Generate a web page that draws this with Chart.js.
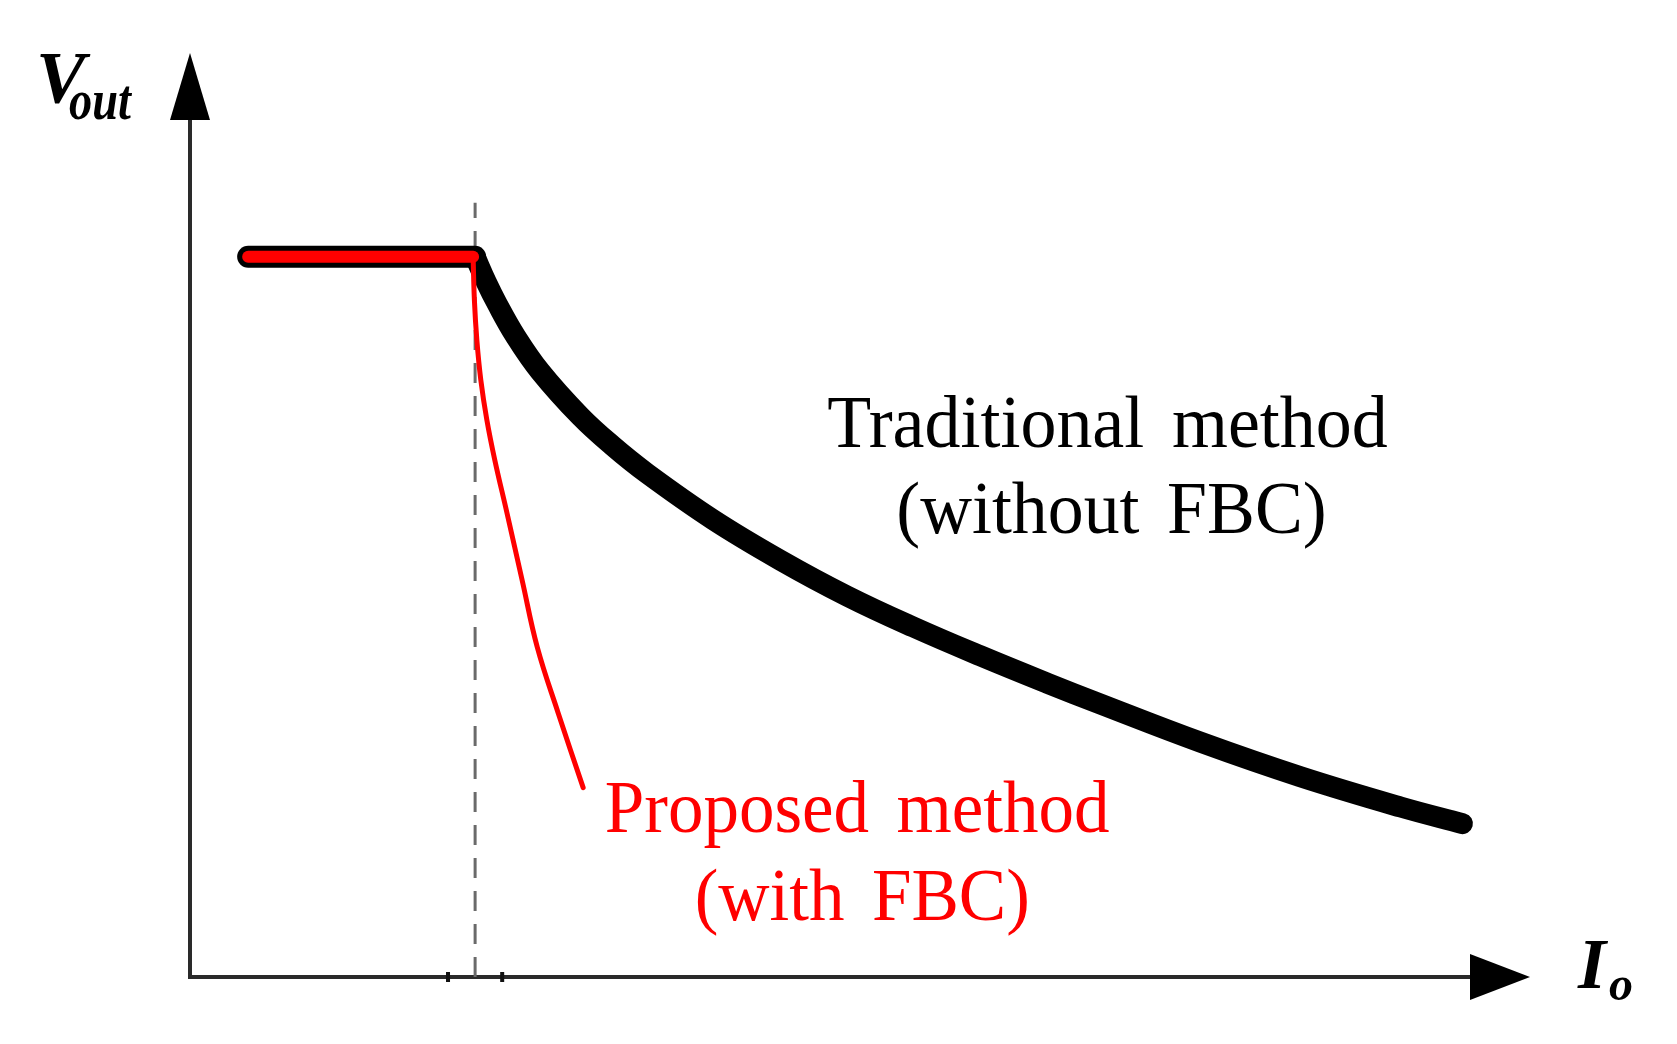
<!DOCTYPE html>
<html>
<head>
<meta charset="utf-8">
<script src="https://cdn.jsdelivr.net/npm/chart.js@4.4.1/dist/chart.umd.min.js"></script>
<style>
  html, body { margin: 0; padding: 0; background: #fff; }
  #wrap { position: relative; width: 1677px; height: 1044px; }
</style>
</head>
<body>
<div id="wrap"><canvas id="vChart"></canvas></div>
<script>
// Vout vs Io, arbitrary units (knee at Io = 10, Vout = 10)
const flatI = [2.04, 10.0];
const flatV = [10.0, 10.0];
const redFlatI = [2.04, 9.93];

// traditional method (without FBC)
const tradI = [10.0, 10.39, 10.77, 11.40, 12.28, 13.68, 14.81, 16.04, 18.35, 20.70, 23.05, 25.37, 27.72, 30.07, 31.93, 35.44, 38.95, 42.46, 44.63];
const tradV = [10.0, 9.65, 9.35, 8.91, 8.41, 7.79, 7.38, 6.99, 6.35, 5.79, 5.29, 4.86, 4.46, 4.08, 3.79, 3.26, 2.78, 2.36, 2.13];

// proposed method (with FBC)
const fbcI = [9.93, 9.975, 10.06, 10.20, 10.41, 10.69, 11.12, 11.65, 12.18, 12.91, 13.79];
const fbcV = [10.0, 9.40, 8.85, 8.29, 7.74, 7.18, 6.44, 5.51, 4.58, 3.67, 2.63];

// dashed marker at the knee current
const dashI = [10.0, 10.0];
const dashV = [0, 10.75];

const axisMaxI = 47.0;
const axisMaxV = 12.83;

const toPts = (xs, ys) => xs.map((x, i) => ({ x, y: ys[i] }));

function drawText(ctx, text, x, y, font, color, sx, align) {
    ctx.save();
    ctx.font = font;
    ctx.fillStyle = color;
    ctx.textAlign = align || 'center';
    ctx.textBaseline = 'alphabetic';
    if ('wordSpacing' in ctx) ctx.wordSpacing = '10px';
    ctx.translate(x, y);
    ctx.scale(sx, 1);
    ctx.fillText(text, 0, 0);
    ctx.restore();
}

const axesPlugin = {
    id: 'axes',
    beforeDatasetsDraw(chart) {
        const { ctx, scales: { x, y } } = chart;
        const x0 = x.getPixelForValue(0), y0 = y.getPixelForValue(0);
        const xEnd = x.getPixelForValue(axisMaxI), yEnd = y.getPixelForValue(axisMaxV);
        ctx.save();
        ctx.strokeStyle = '#2a2a2a';
        ctx.lineWidth = 4;
        ctx.beginPath();
        ctx.moveTo(x0, y0 + 2); ctx.lineTo(x0, yEnd + 60);
        ctx.moveTo(x0 - 2, y0); ctx.lineTo(xEnd - 55, y0);
        ctx.stroke();

        // small ticks around the knee current
        ctx.fillStyle = '#111';
        [9.05, 10.95].forEach(v => {
            const px = x.getPixelForValue(v);
            ctx.fillRect(px - 2, y0 - 5, 4, 10);
        });

        ctx.fillStyle = '#000';
        ctx.beginPath();
        ctx.moveTo(x0, yEnd);
        ctx.lineTo(x0 - 20, yEnd + 67);
        ctx.lineTo(x0 + 20, yEnd + 67);
        ctx.closePath();
        ctx.fill();

        ctx.beginPath();
        ctx.moveTo(xEnd, y0);
        ctx.lineTo(xEnd - 60, y0 - 23);
        ctx.lineTo(xEnd - 60, y0 + 23);
        ctx.closePath();
        ctx.fill();
        ctx.restore();
    },
    afterDatasetsDraw(chart) {
        const { ctx, scales: { x, y } } = chart;
        const x0 = x.getPixelForValue(0), y0 = y.getPixelForValue(0);
        const xEnd = x.getPixelForValue(axisMaxI), yEnd = y.getPixelForValue(axisMaxV);
        const serif = '"Liberation Serif", "Times New Roman", serif';

        // axis titles
        drawText(ctx, 'V', x0 - 154, yEnd + 50, 'italic bold 74px ' + serif, '#000', 1, 'left');
        drawText(ctx, 'out', x0 - 121, yEnd + 66, 'italic bold 58px ' + serif, '#000', 0.8, 'left');
        drawText(ctx, 'I', xEnd + 48, y0 + 11, 'italic bold 72px ' + serif, '#000', 1, 'left');
        drawText(ctx, 'o', xEnd + 79, y0 + 23, 'italic bold 48px ' + serif, '#000', 1, 'left');

        // curve labels
        const f = '74px ' + serif;
        drawText(ctx, 'Traditional method', x.getPixelForValue(32.18), y.getPixelForValue(7.36), f, '#000', 0.972);
        drawText(ctx, '(without FBC)', x.getPixelForValue(32.32), y.getPixelForValue(6.17), f, '#000', 0.97);
        drawText(ctx, 'Proposed method', x.getPixelForValue(23.40), y.getPixelForValue(2.01), f, '#ff0000', 0.96);
        drawText(ctx, '(with FBC)', x.getPixelForValue(23.58), y.getPixelForValue(0.79), f, '#ff0000', 0.96);
    }
};

new Chart(document.getElementById('vChart'), {
    type: 'line',
    data: {
        datasets: [
            {
                label: 'Proposed method (with FBC)',
                data: toPts(fbcI, fbcV),
                borderColor: '#ff0000',
                borderWidth: 5,
                borderCapStyle: 'round',
                tension: 0.4,
                pointRadius: 0,
                order: 0
            },
            {
                label: 'Proposed method (with FBC), CV region',
                data: toPts(redFlatI, flatV),
                borderColor: '#ff0000',
                borderWidth: 12,
                borderCapStyle: 'round',
                pointRadius: 0,
                order: 0
            },
            {
                label: 'Traditional method (without FBC)',
                data: toPts(tradI, tradV),
                borderColor: '#000',
                borderWidth: 21,
                borderCapStyle: 'round',
                tension: 0.4,
                pointRadius: 0,
                order: 1
            },
            {
                label: 'Traditional method (without FBC), CV region',
                data: toPts(flatI, flatV),
                borderColor: '#000',
                borderWidth: 22,
                borderCapStyle: 'round',
                pointRadius: 0,
                order: 1
            },
            {
                label: 'Knee current',
                data: toPts(dashI, dashV),
                borderColor: '#6a6a6a',
                borderWidth: 3,
                borderDash: [20, 13],
                pointRadius: 0,
                order: 3
            }
        ]
    },
    options: {
        responsive: true,
        maintainAspectRatio: false,
        animation: false,
        layout: { padding: { left: 190, right: 147, top: 53, bottom: 67 } },
        plugins: { legend: { display: false }, tooltip: { enabled: false } },
        scales: {
            x: { type: 'linear', min: 0, max: axisMaxI, display: false },
            y: { type: 'linear', min: 0, max: axisMaxV, display: false }
        }
    },
    plugins: [axesPlugin]
});
</script>
</body>
</html>
